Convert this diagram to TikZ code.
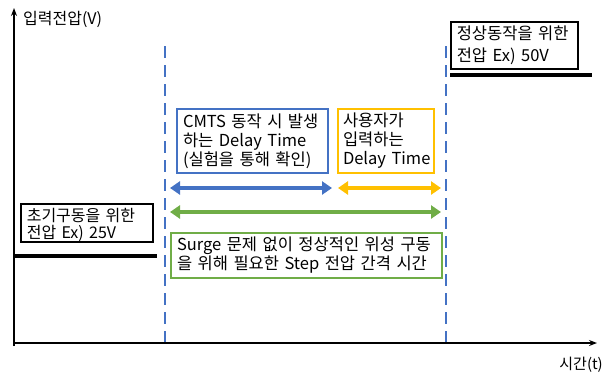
\documentclass[tikz,border=0pt]{standalone}
\usepackage{fontspec}
\setmainfont{Noto Sans CJK KR}
\usetikzlibrary{arrows.meta}
\definecolor{cblue}{HTML}{4472C4}
\definecolor{corange}{HTML}{FFC000}
\definecolor{cgreen}{HTML}{70AD47}
\begin{document}
\begin{tikzpicture}[x=1pt,y=-1pt,
  font=\fontsize{16.5}{19}\selectfont,
  tbox/.style={draw, line width=1.6pt, inner xsep=6pt, inner ysep=1pt, align=left, anchor=north west},
  axisline/.style={line width=1.5pt, -{Stealth[length=8pt,width=6pt]}},
  guide/.style={cblue, line width=1.4pt, dash pattern=on 12pt off 7pt},
  level/.style={line width=3.5pt},
  span/.style={line width=4.5pt, {Triangle[length=10pt,width=13pt]}-{Triangle[length=10pt,width=13pt]}}]
\useasboundingbox (0,0) rectangle (605,376);
% axes
\coordinate (o) at (14,343);
\coordinate (ytop) at (14,8);
\coordinate (xend) at (597,343);
\draw[axisline] (14,346) -- (ytop);
\draw[axisline] (o) -- (xend);
\node[anchor=west, inner sep=0pt, font=\fontsize{16}{19}\selectfont] (ylab) at (23,19) {입력전압(V)};
\node[anchor=east, inner sep=0pt, font=\fontsize{15}{18}\selectfont] (xlab) at (603,365) {시간(t)};
% guides
\coordinate (g1t) at (165,46);
\coordinate (g1b) at (165,342);
\coordinate (g2t) at (446,46);
\coordinate (g2b) at (446,342);
\draw[guide] (g1t) -- (g1b);
\draw[guide] (g2t) -- (g2b);
% voltage levels
\coordinate (l1a) at (14,256);
\coordinate (l1b) at (157,256);
\coordinate (l2a) at (450,75);
\coordinate (l2b) at (592,75);
\draw[level] (l1a) -- (l1b);
\draw[level] (l2a) -- (l2b);
% boxes
\node[tbox, text width=115pt, minimum height=47pt, font=\fontsize{16.5}{21.5}\selectfont] (top) at (450,21) {정상동작을 위한\\전압 Ex) 50V};
\node[tbox, text width=120pt, minimum height=37pt, inner ysep=0pt, font=\fontsize{16}{17}\selectfont] (left) at (20,203) {\rule{0pt}{18pt}초기구동을 위한\\전압 Ex) 25V};
\node[tbox, draw=cblue, line width=2pt, text width=139pt, minimum height=64pt] (cmts) at (176,108) {CMTS 동작 시 발생\\하는 Delay Time\\(실험을 통해 확인)};
\node[tbox, draw=corange, line width=2pt, inner xsep=5pt, text width=86pt, minimum height=64pt] (user) at (337,108) {사용자가\\입력하는\\Delay~Time};
\node[tbox, draw=cgreen, line width=2pt, text width=259pt, minimum height=45pt] (surge) at (170,232) {Surge 문제 없이 정상적인 위성 구동\\을 위해 필요한 Step 전압 간격 시간};
% spans
\coordinate (b1) at (170,188);
\coordinate (b2) at (332,188);
\coordinate (y1) at (338,188);
\coordinate (y2) at (441,188);
\coordinate (c1) at (170,212);
\coordinate (c2) at (441,212);
\draw[span, cblue] (b1) -- (b2);
\draw[span, corange] (y1) -- (y2);
\draw[span, cgreen] (c1) -- (c2);
\end{tikzpicture}
\end{document}
